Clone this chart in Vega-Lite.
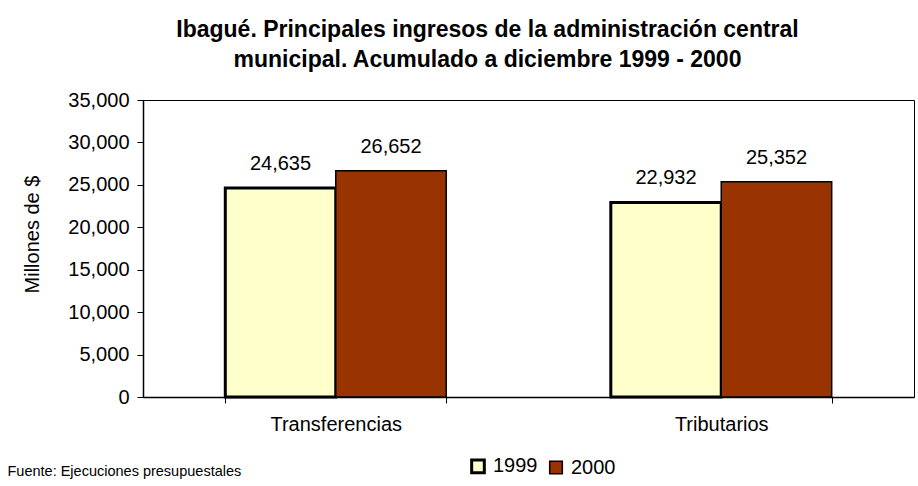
{
  "$schema": "https://vega.github.io/schema/vega-lite/v6.json",
  "width": 771,
  "height": 297,
  "autosize": {"type": "none"},
  "padding": {"left": 143, "top": 100, "right": 4, "bottom": 89},
  "background": "white",
  "config": {
    "view": {"stroke": "black", "strokeWidth": 1},
    "font": "Liberation Sans"
  },
  "title": {
    "text": ["Ibagué. Principales ingresos de la administración central", "municipal. Acumulado a diciembre 1999 - 2000"],
    "fontSize": 23,
    "fontWeight": "bold",
    "font": "Liberation Sans",
    "color": "black",
    "lineHeight": 30,
    "anchor": "middle",
    "frame": "group",
    "dx": -41,
    "offset": 18
  },
  "data": {
    "values": [
      {"cat": "Transferencias", "year": "1999", "value": 24635},
      {"cat": "Transferencias", "year": "2000", "value": 26652},
      {"cat": "Tributarios", "year": "1999", "value": 22932},
      {"cat": "Tributarios", "year": "2000", "value": 25352}
    ]
  },
  "encoding": {
    "x": {
      "field": "cat",
      "type": "nominal",
      "sort": ["Transferencias", "Tributarios"],
      "scale": {"paddingInner": 0.427, "paddingOuter": 0.2135},
      "axis": {
        "title": "Fuente: Ejecuciones presupuestales",
        "titleFontSize": 14.5,
        "titleFontWeight": "normal",
        "titleFont": "Liberation Sans",
        "titleColor": "black",
        "titleAlign": "left",
        "titleAnchor": "start",
        "titleBaseline": "alphabetic",
        "titleX": -136,
        "titleY": 78,
        "labelAngle": 0,
        "labelFontSize": 20,
        "labelColor": "black",
        "labelPadding": 11,
        "tickBand": "extent",
        "tickSize": 6,
        "tickColor": "black",
        "domainColor": "black",
        "domainWidth": 1.5
      }
    },
    "xOffset": {
      "field": "year",
      "type": "nominal",
      "scale": {"paddingInner": 0, "paddingOuter": 0}
    },
    "y": {
      "field": "value",
      "type": "quantitative",
      "scale": {"domain": [0, 35000], "nice": false},
      "axis": {
        "title": "Millones de $",
        "titleFontSize": 20,
        "titleFontWeight": "normal",
        "titleColor": "black",
        "titlePadding": 25,
        "titleY": 134,
        "values": [0, 5000, 10000, 15000, 20000, 25000, 30000, 35000],
        "format": ",.0f",
        "grid": false,
        "labelFontSize": 20,
        "labelColor": "black",
        "labelPadding": 8,
        "tickSize": 6,
        "tickColor": "black",
        "domainColor": "black",
        "domainWidth": 1.5
      }
    }
  },
  "layer": [
    {
      "mark": {"type": "bar", "stroke": "black"},
      "encoding": {
        "fill": {
          "field": "year",
          "type": "nominal",
          "scale": {"domain": ["1999", "2000"], "range": ["#FFFFCC", "#993300"]},
          "legend": {
            "orient": "none",
            "legendX": 325,
            "legendY": 356,
            "direction": "horizontal",
            "title": null,
            "symbolType": "square",
            "symbolSize": 160,
            "symbolStrokeColor": "black",
            "symbolStrokeWidth": 2,
            "labelFontSize": 20,
            "labelColor": "black",
            "labelOffset": 5,
            "columnPadding": 8,
            "padding": 0
          }
        },
        "strokeWidth": {
          "field": "year",
          "type": "nominal",
          "scale": {"domain": ["1999", "2000"], "range": [3, 1.5]},
          "legend": null
        }
      }
    },
    {
      "mark": {"type": "text", "fontSize": 20, "color": "black", "baseline": "alphabetic", "dy": -18},
      "encoding": {
        "text": {"field": "value", "type": "quantitative", "format": ","}
      }
    }
  ]
}
